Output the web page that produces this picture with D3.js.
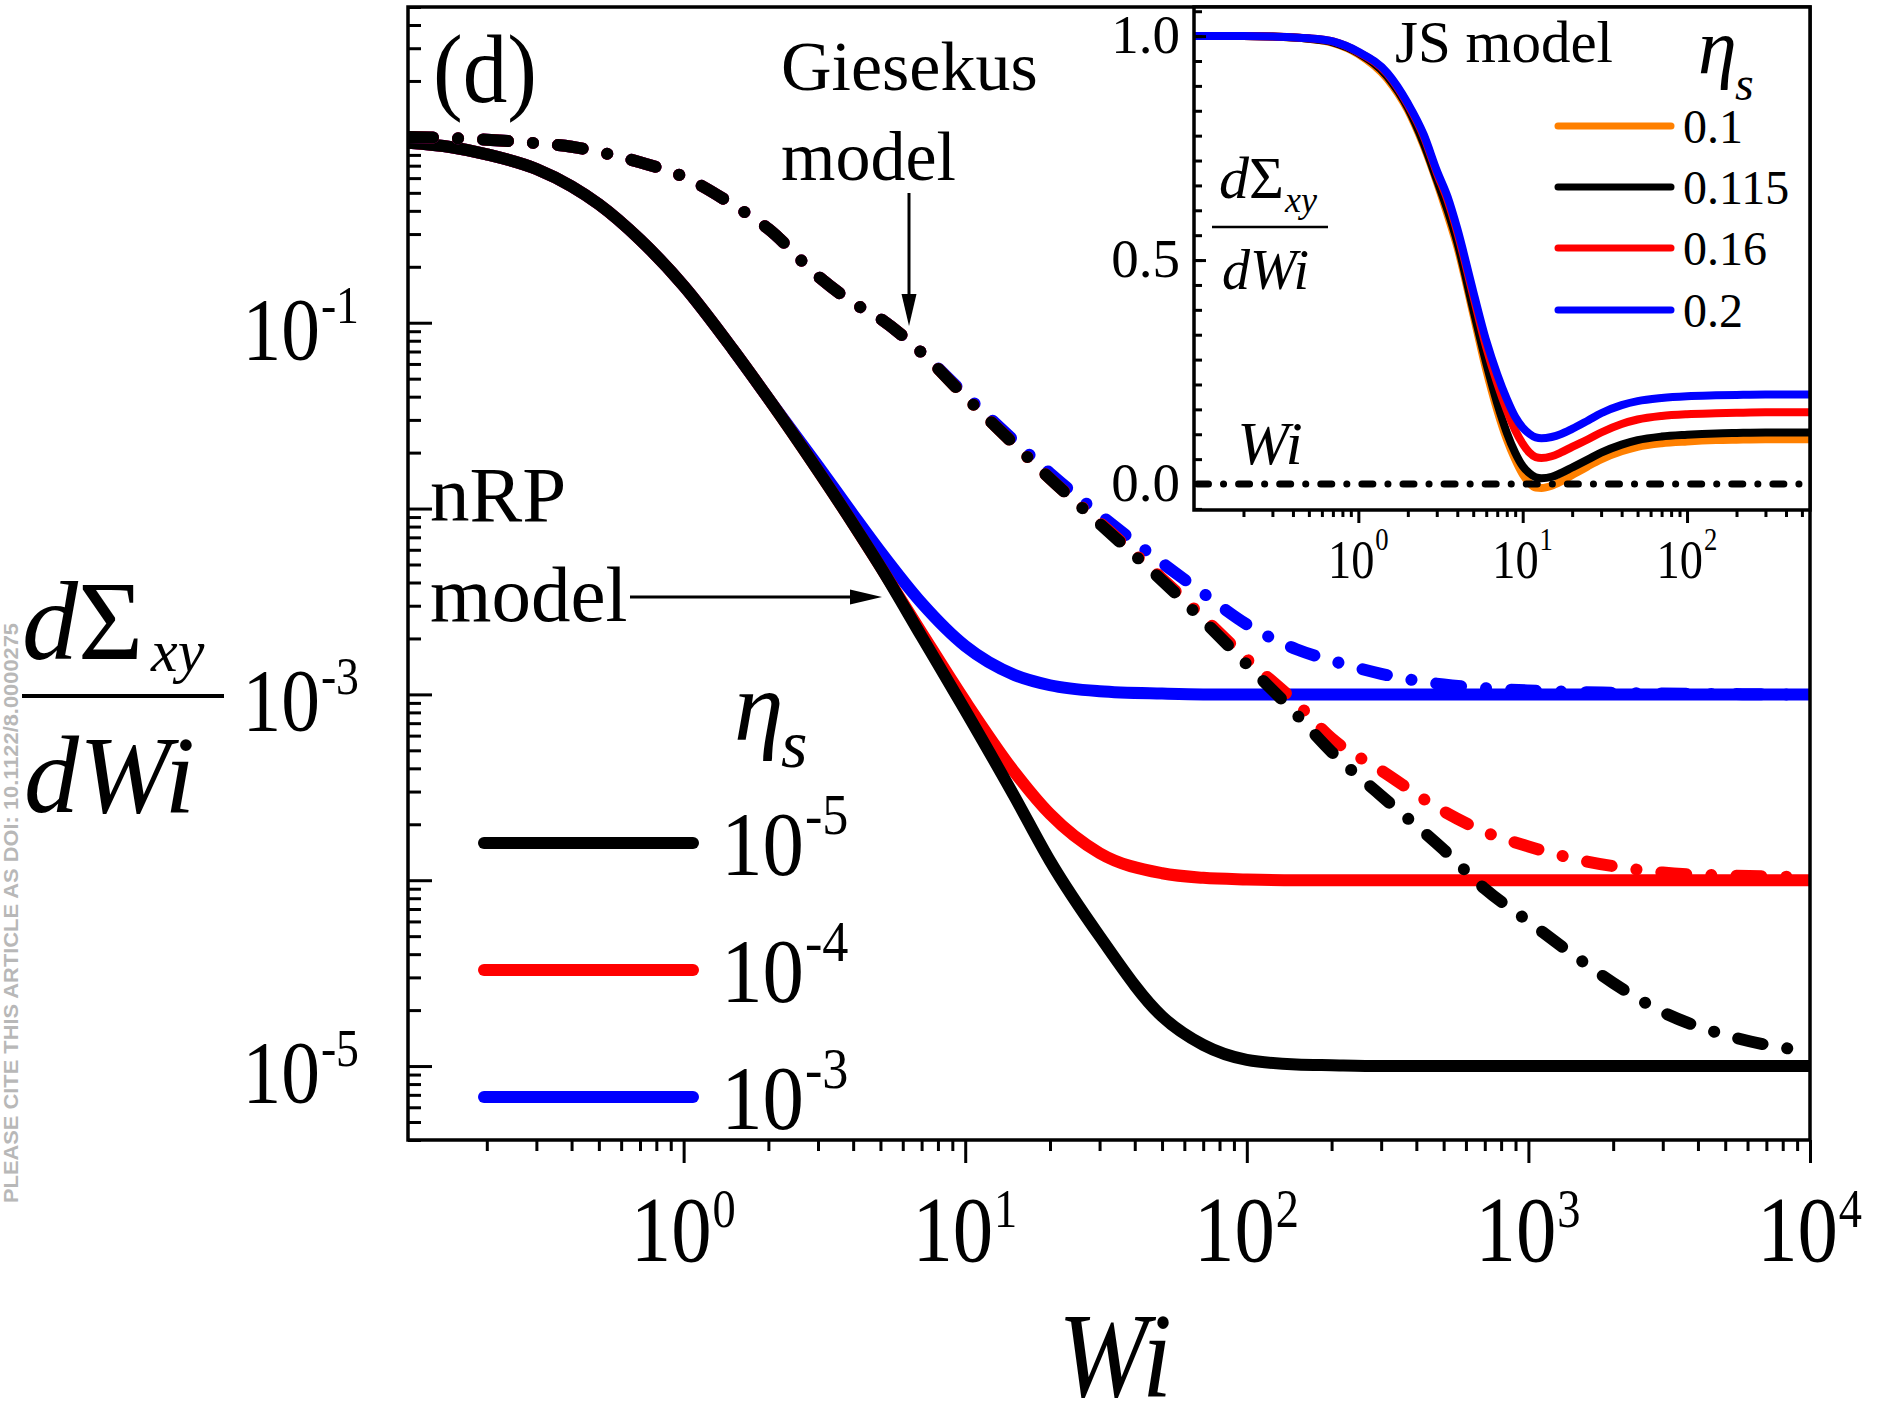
<!DOCTYPE html>
<html>
<head>
<meta charset="utf-8">
<script src="https://cdn.jsdelivr.net/npm/d3@7"></script>
<style>
  body { margin: 0; background: #fff; }
</style>
</head>
<body>
<div id="chart"></div>
<script>
/**
 * CONSTANTS AND GLOBALS
 * */
const width = 1896,
  height = 1424;

// main panel: Wi grid shared by every curve
const wiMain = [0.105, 0.15, 0.2, 0.3, 0.4, 0.5, 0.7, 1, 1.5, 2, 3, 4, 5, 7, 10, 15, 20, 30, 50, 70,
  100, 150, 200, 300, 500, 700, 1000, 1500, 2000, 3000, 5000, 7000, 10000];

// nRP model (solid), one series per eta_s
const nrpEta5 = [0.93, 0.88, 0.806, 0.672, 0.542, 0.434, 0.28, 0.158, 0.0715, 0.0391, 0.0160, 0.00827, 0.00486,
  0.00205, 0.00082, 0.00028, 0.000127, 0.000050, 0.0000185, 0.000013, 0.0000108, 0.0000102, 0.0000101,
  1e-5, 1e-5, 1e-5, 1e-5, 1e-5, 1e-5, 1e-5, 1e-5, 1e-5, 1e-5];
const nrpEta4 = [0.93, 0.88, 0.806, 0.672, 0.542, 0.434, 0.28, 0.158, 0.0715, 0.0391, 0.0160, 0.00827, 0.00486,
  0.00215, 0.00092, 0.00038, 0.000227, 0.000140, 0.000109, 0.000103, 0.000101, 0.0001, 0.0001,
  1e-4, 1e-4, 1e-4, 1e-4, 1e-4, 1e-4, 1e-4, 1e-4, 1e-4, 1e-4];
const nrpEta3 = [0.93, 0.88, 0.806, 0.672, 0.542, 0.434, 0.28, 0.158, 0.0715, 0.0391, 0.0170, 0.00927, 0.00586,
  0.0031, 0.00182, 0.00127, 0.00112, 0.00104, 0.00101, 1e-3, 1e-3, 1e-3, 1e-3,
  1e-3, 1e-3, 1e-3, 1e-3, 1e-3, 1e-3, 1e-3, 1e-3, 1e-3, 1e-3];

// Giesekus model (dash-dot)
const gieEta5 = [1.0, 0.985, 0.965, 0.925, 0.885, 0.83, 0.73, 0.61, 0.43, 0.32, 0.178, 0.128, 0.105,
  0.069, 0.040, 0.022, 0.0145, 0.0083, 0.0041, 0.0025, 0.00145, 0.00078, 0.00049, 0.000285, 0.000146,
  0.00009, 0.00006, 0.000038, 0.000028, 0.0000195, 0.0000147, 0.000013, 0.000012];
const gieEta4 = [1.0, 0.985, 0.965, 0.925, 0.885, 0.83, 0.73, 0.61, 0.43, 0.32, 0.178, 0.128, 0.105,
  0.069, 0.040, 0.022, 0.0145, 0.0084, 0.0042, 0.0026, 0.00155, 0.0009, 0.00058, 0.00039, 0.000235,
  0.000182, 0.000152, 0.000129, 0.000119, 0.00011, 0.000106, 0.000105, 0.000104];
const gieEta3 = [1.0, 0.985, 0.965, 0.925, 0.885, 0.83, 0.73, 0.61, 0.43, 0.32, 0.178, 0.128, 0.105,
  0.069, 0.041, 0.023, 0.0155, 0.0093, 0.0051, 0.0035, 0.00238, 0.00175, 0.00152, 0.00129, 0.00113,
  0.00108, 0.00105, 0.00103, 0.00102, 0.00101, 0.001005, 0.001, 0.001];

const etaLabels = ["-5", "-4", "-3"];
const etaColors = ["#000000", "#ff0000", "#0000ff"];

// inset: JS model
const wiInset = [0.1, 0.2, 0.3, 0.5, 0.7, 1, 1.5, 2, 2.5, 3, 3.5, 4, 5, 6, 7, 8, 9, 10, 11, 12, 13,
  15, 17, 20, 25, 30, 40, 50, 70, 100, 150, 200, 300, 560];
const jsEta100 = [1.0, 1.0, 0.999, 0.994, 0.985, 0.96, 0.905, 0.835, 0.755, 0.675, 0.60, 0.53, 0.38,
  0.255, 0.165, 0.10, 0.055, 0.022, 0.002, -0.008, -0.009, -0.004, 0.005, 0.02, 0.04, 0.055, 0.073,
  0.083, 0.091, 0.095, 0.098, 0.099, 0.1, 0.1];
const jsEta115 = [1.0, 1.0, 0.999, 0.994, 0.986, 0.962, 0.91, 0.84, 0.76, 0.68, 0.61, 0.54, 0.39,
  0.27, 0.18, 0.115, 0.07, 0.04, 0.024, 0.015, 0.013, 0.016, 0.024, 0.037, 0.055, 0.07, 0.088,
  0.098, 0.106, 0.11, 0.113, 0.114, 0.115, 0.115];
const jsEta160 = [1.0, 1.0, 0.999, 0.995, 0.988, 0.964, 0.916, 0.847, 0.776, 0.695, 0.632, 0.562, 0.42,
  0.305, 0.225, 0.165, 0.12, 0.09, 0.07, 0.06, 0.058, 0.062, 0.07, 0.083, 0.1, 0.115, 0.134,
  0.144, 0.152, 0.156, 0.158, 0.159, 0.16, 0.16];
const jsEta200 = [1.0, 1.0, 0.999, 0.995, 0.988, 0.965, 0.918, 0.85, 0.78, 0.70, 0.64, 0.57, 0.43,
  0.32, 0.245, 0.19, 0.15, 0.126, 0.112, 0.104, 0.102, 0.105, 0.111, 0.123, 0.142, 0.158, 0.176,
  0.185, 0.192, 0.196, 0.198, 0.199, 0.2, 0.2];
const jsLabels = ["0.1", "0.115", "0.16", "0.2"];
const jsColors = ["#ff8000", "#000000", "#ff0000", "#0000ff"];

const serif = "'Liberation Serif','Times New Roman',Times,serif";

/**
 * SVG
 * */
const svg = d3.select("#chart")
  .append("svg")
  .attr("width", width)
  .attr("height", height)
  .style("font-family", serif)
  .style("background", "#fff");

// main scales
const x = d3.scaleLog().domain([0.105, 1e4]).range([408, 1810]);
const y = d3.scaleLog().domain([4e-6, 5]).range([1140, 7]);

// inset scales
const xi = d3.scaleLog().domain([0.1, 560]).range([1194, 1810]);
const yi = d3.scaleLinear().domain([-0.058, 1.065]).range([510, 7]);

svg.append("clipPath").attr("id", "mainClip")
  .append("rect").attr("x", 408).attr("y", 7).attr("width", 1402).attr("height", 1133);
svg.append("clipPath").attr("id", "insetClip")
  .append("rect").attr("x", 1194).attr("y", 7).attr("width", 616).attr("height", 503);

// label like 10^n, bx is where the "10" ends and the exponent starts
function pow10(g, bx, by, exp, o) {
  const t = g.append("g").attr("transform", `translate(${bx},${by}) scale(${o.sx},1)`);
  t.append("text").attr("text-anchor", "end").attr("font-size", o.size).text("10");
  t.append("text").attr("x", 1).attr("y", -o.rise).attr("font-size", o.sup).text(exp);
}

function minorLog(lo, hi) {
  const out = [];
  for (let d = lo; d < hi; d *= 10) {
    for (let k = 2; k <= 9; k++) out.push(d * k);
  }
  return out;
}

function styleAxis(g) {
  g.select(".domain").remove();
  g.selectAll(".tick line").attr("stroke", "#000").attr("stroke-width", 3.2);
}

/**
 * MAIN PANEL AXES
 * */
const yMinor = minorLog(1e-6, 10).filter(v => v >= 4e-6 && v <= 5);
const yMajor = [1e-5, 1e-4, 1e-3, 1e-2, 1e-1, 1];
svg.append("g").attr("transform", "translate(408,0)")
  .call(d3.axisRight(y).tickValues(yMinor).tickSize(13).tickSizeOuter(0).tickFormat(""))
  .call(styleAxis);
svg.append("g").attr("transform", "translate(408,0)")
  .call(d3.axisRight(y).tickValues(yMajor).tickSize(24).tickSizeOuter(0).tickFormat(""))
  .call(styleAxis);

const xMinor = minorLog(0.1, 1e4).filter(v => v >= 0.2);
const xMajor = [1, 10, 100, 1000, 10000];
svg.append("g").attr("transform", "translate(0,1140)")
  .call(d3.axisBottom(x).tickValues(xMinor).tickSize(11).tickSizeOuter(0).tickFormat(""))
  .call(styleAxis);
svg.append("g").attr("transform", "translate(0,1140)")
  .call(d3.axisBottom(x).tickValues(xMajor).tickSize(23).tickSizeOuter(0).tickFormat(""))
  .call(styleAxis);

const labels = svg.append("g").attr("fill", "#000");
xMajor.forEach((v, i) => {
  pow10(labels, x(v) + 28, 1261, String(i), { size: 94, sup: 54, rise: 34, sx: 0.86 });
});
[1e-1, 1e-3, 1e-5].forEach(v => {
  pow10(labels, 320, y(v) + 36, String(Math.round(Math.log10(v))), { size: 88, sup: 52, rise: 36, sx: 0.88 });
});

/**
 * MAIN PANEL CURVES
 * */
const lineMain = d3.line()
  .x((d, i) => x(wiMain[i]))
  .y(d => y(d))
  .curve(d3.curveMonotoneX);

const plot = svg.append("g").attr("clip-path", "url(#mainClip)");

const nrpSeries = [nrpEta3, nrpEta4, nrpEta5];
const gieSeries = [gieEta3, gieEta4, gieEta5];
const drawColors = ["#0000ff", "#ff0000", "#000000"];

plot.selectAll("path.nrp")
  .data(nrpSeries)
  .join("path")
  .attr("class", "nrp")
  .attr("d", lineMain)
  .attr("fill", "none")
  .attr("stroke", (d, i) => drawColors[i])
  .attr("stroke-width", 12)
  .attr("stroke-linejoin", "round")
  .attr("stroke-linecap", "round");

plot.selectAll("path.gie")
  .data(gieSeries)
  .join("path")
  .attr("class", "gie")
  .attr("d", lineMain)
  .attr("fill", "none")
  .attr("stroke", (d, i) => drawColors[i])
  .attr("stroke-width", 12)
  .attr("stroke-linecap", "round")
  .attr("stroke-dasharray", "25,25,0.1,25");

// frame
svg.append("rect")
  .attr("x", 408).attr("y", 7).attr("width", 1402).attr("height", 1133)
  .attr("fill", "none").attr("stroke", "#000").attr("stroke-width", 3.5);

/**
 * ANNOTATIONS
 * */
svg.append("text").attr("transform", "translate(433,102) scale(0.91,1)")
  .attr("font-size", 98).text("(d)");

svg.append("text").attr("x", 781).attr("y", 90).attr("font-size", 70).text("Giesekus");
svg.append("text").attr("x", 781).attr("y", 180).attr("font-size", 70).text("model");
svg.append("line").attr("x1", 909).attr("y1", 193).attr("x2", 909).attr("y2", 300)
  .attr("stroke", "#000").attr("stroke-width", 3);
svg.append("path").attr("d", "M909,326 L901.5,294 L916.5,294 Z").attr("fill", "#000");

svg.append("text").attr("x", 430).attr("y", 521).attr("font-size", 79).text("nRP");
svg.append("text").attr("x", 430).attr("y", 621).attr("font-size", 79).text("model");
svg.append("line").attr("x1", 630).attr("y1", 597).attr("x2", 856).attr("y2", 597)
  .attr("stroke", "#000").attr("stroke-width", 3);
svg.append("path").attr("d", "M882,597 L850,589.5 L850,604.5 Z").attr("fill", "#000");

// main legend
const legY = [843, 970, 1097];
const leg = svg.append("g");
leg.append("text").attr("x", 734).attr("y", 740).attr("font-size", 100)
  .attr("font-style", "italic").text("η");
leg.append("text").attr("x", 781).attr("y", 767).attr("font-size", 68)
  .attr("font-style", "italic").text("s");
legY.forEach((ly, i) => {
  leg.append("line").attr("x1", 484).attr("x2", 693).attr("y1", ly).attr("y2", ly)
    .attr("stroke", etaColors[i]).attr("stroke-width", 12).attr("stroke-linecap", "round");
  pow10(leg, 804, ly + 32, etaLabels[i], { size: 92, sup: 58, rise: 41, sx: 0.9 });
});

// axis titles
const yt = svg.append("g").attr("font-style", "italic");
const num = yt.append("text").attr("x", 22).attr("y", 659).attr("font-size", 112);
num.append("tspan").text("d");
num.append("tspan").attr("font-style", "normal").text("Σ");
yt.append("text").attr("x", 151).attr("y", 671).attr("font-size", 60).text("xy");
yt.append("line").attr("x1", 22).attr("x2", 224).attr("y1", 696).attr("y2", 696)
  .attr("stroke", "#000").attr("stroke-width", 4);
yt.append("text").attr("x", 24).attr("y", 812).attr("font-size", 110).text("dWi");

svg.append("text").attr("transform", "translate(1115,1396) scale(0.9,1)")
  .attr("text-anchor", "middle").attr("font-size", 120).attr("font-style", "italic").text("Wi");

/**
 * INSET (JS model)
 * */
svg.append("rect").attr("x", 1194).attr("y", 7).attr("width", 616).attr("height", 503)
  .attr("fill", "#fff");

const lineInset = d3.line()
  .x((d, i) => xi(wiInset[i]))
  .y(d => yi(d))
  .curve(d3.curveMonotoneX);

const inset = svg.append("g").attr("clip-path", "url(#insetClip)");
inset.selectAll("path.js")
  .data([jsEta100, jsEta115, jsEta160, jsEta200])
  .join("path")
  .attr("class", "js")
  .attr("d", lineInset)
  .attr("fill", "none")
  .attr("stroke", (d, i) => jsColors[i])
  .attr("stroke-width", 8)
  .attr("stroke-linejoin", "round");

inset.append("line")
  .attr("x1", xi(0.105)).attr("x2", xi(530)).attr("y1", yi(0)).attr("y2", yi(0))
  .attr("stroke", "#000").attr("stroke-width", 7).attr("stroke-linecap", "round")
  .attr("stroke-dasharray", "11,15,0.1,15");

// inset axes
const yiMinor = d3.range(-1, 20).map(k => k * 0.5 / 9).filter(v => v >= -0.058 && v <= 1.065);
svg.append("g").attr("transform", "translate(1194,0)")
  .call(d3.axisRight(yi).tickValues(yiMinor).tickSize(8).tickSizeOuter(0).tickFormat(""))
  .call(styleAxis);
svg.append("g").attr("transform", "translate(1194,0)")
  .call(d3.axisRight(yi).tickValues([0, 0.5, 1]).tickSize(12).tickSizeOuter(0).tickFormat(""))
  .call(styleAxis);
const xiMinor = minorLog(0.1, 1000).filter(v => v <= 560);
svg.append("g").attr("transform", "translate(0,510)")
  .call(d3.axisBottom(xi).tickValues(xiMinor).tickSize(7).tickSizeOuter(0).tickFormat(""))
  .call(styleAxis);
svg.append("g").attr("transform", "translate(0,510)")
  .call(d3.axisBottom(xi).tickValues([1, 10, 100]).tickSize(13).tickSizeOuter(0).tickFormat(""))
  .call(styleAxis);
svg.selectAll("g.tick line").attr("stroke-width", 3);

svg.append("rect").attr("x", 1194).attr("y", 7).attr("width", 616).attr("height", 503)
  .attr("fill", "none").attr("stroke", "#000").attr("stroke-width", 3.5);

[1, 10, 100].forEach((v, i) => {
  pow10(labels, xi(v) + 16, 578, String(i), { size: 54, sup: 31, rise: 28, sx: 0.86 });
});
[0, 0.5, 1].forEach(v => {
  svg.append("text").attr("x", 1180).attr("y", yi(v) + 17).attr("text-anchor", "end")
    .attr("font-size", 55).text(d3.format(".1f")(v));
});

svg.append("text").attr("x", 1395).attr("y", 62).attr("font-size", 59).text("JS model");

const it = svg.append("g").attr("font-style", "italic");
const inum = it.append("text").attr("x", 1219).attr("y", 198).attr("font-size", 60);
inum.append("tspan").text("d");
inum.append("tspan").attr("font-style", "normal").text("Σ");
it.append("text").attr("x", 1285).attr("y", 212).attr("font-size", 36).text("xy");
it.append("line").attr("x1", 1212).attr("x2", 1328).attr("y1", 227).attr("y2", 227)
  .attr("stroke", "#000").attr("stroke-width", 2.5);
it.append("text").attr("x", 1222).attr("y", 289).attr("font-size", 56).text("dWi");
it.append("text").attr("x", 1270).attr("y", 464).attr("text-anchor", "middle")
  .attr("font-size", 62).text("Wi");

// inset legend
it.append("text").attr("x", 1698).attr("y", 73).attr("font-size", 78).text("η");
it.append("text").attr("x", 1735).attr("y", 100).attr("font-size", 48).text("s");
const jsLegY = [126, 187, 248, 310];
jsLegY.forEach((ly, i) => {
  svg.append("line").attr("x1", 1558).attr("x2", 1671).attr("y1", ly).attr("y2", ly)
    .attr("stroke", jsColors[i]).attr("stroke-width", 7).attr("stroke-linecap", "round");
  svg.append("text").attr("x", 1683).attr("y", ly + 17).attr("font-size", 48).text(jsLabels[i]);
});

// side notice
svg.append("text")
  .attr("transform", "translate(18,1203) rotate(-90)")
  .attr("font-family", "'Liberation Sans',Arial,sans-serif")
  .attr("font-weight", "bold")
  .attr("font-size", 21)
  .attr("fill", "#b8b8b8")
  .attr("textLength", 580)
  .attr("lengthAdjust", "spacingAndGlyphs")
  .text("PLEASE CITE THIS ARTICLE AS DOI: 10.1122/8.0000275");
</script>
</body>
</html>
